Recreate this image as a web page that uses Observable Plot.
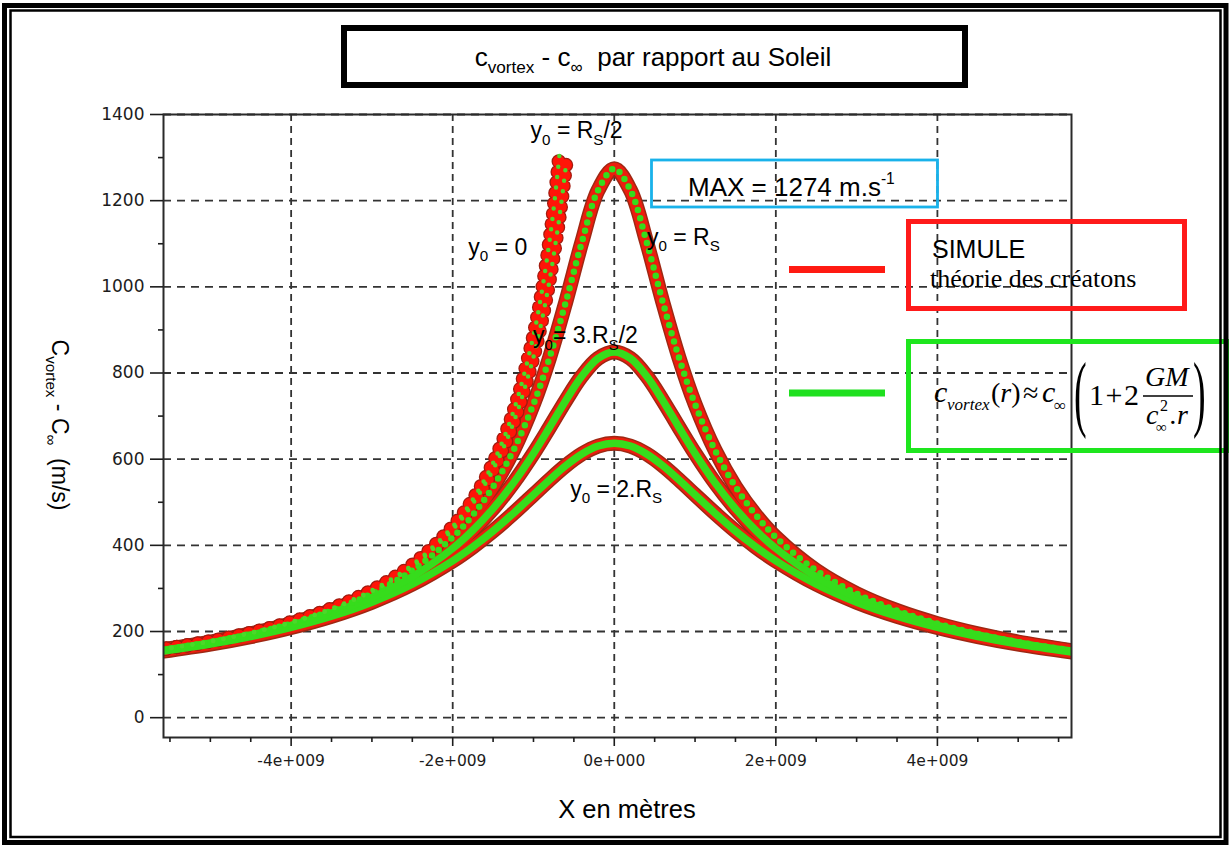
<!DOCTYPE html>
<html><head><meta charset="utf-8">
<script src="https://cdn.jsdelivr.net/npm/d3@7"></script>
<script src="https://cdn.jsdelivr.net/npm/@observablehq/plot@0.6"></script>
<style>
html,body{margin:0;padding:0;background:#fff;}
#wrap{position:relative;width:1229px;height:845px;overflow:hidden;background:#fff;}
#wrap > svg{position:absolute;left:0;top:0;}
</style></head><body><div id="wrap"></div>
<script>
// ---------- data (x in units of 1e9 m, values in m/s) ----------
const xGrid = [-5.8,-5,-4.5,-4,-3.5,-3,-2.5,-2,-1.75,-1.5,-1.25,-1,-0.8,-0.6,-0.4,-0.2,0,0.2,0.4,0.6,0.8,1,1.25,1.5,1.75,2,2.5,3,3.5,4,4.5,5,5.8];
// y0 = R_S
const valR   = [151.8,175.6,194.7,218.4,248.5,287.9,341.7,418.7,470.8,536.2,619.8,727.8,836.2,964.9,1104.6,1224.4,1274,1224.4,1104.6,964.9,836.2,727.8,619.8,536.2,470.8,418.7,341.7,287.9,248.5,218.4,194.7,175.6,151.8];
// y0 = 3.R_S/2
const val15R = [150.5,173.6,191.9,214.5,242.8,279.1,327.3,393.0,435.1,485.2,544.4,613.3,674.1,736.4,793.1,834.1,849,834.1,793.1,736.4,674.1,613.3,544.4,485.2,435.1,393.0,327.3,279.1,242.8,214.5,191.9,173.6,150.5];
// y0 = 2.R_S
const val2R  = [148.7,170.8,188.2,209.4,235.4,268.1,309.9,363.9,396.5,433.3,474.0,517.3,552.3,585.0,612.2,630.5,637,630.5,612.2,585.0,552.3,517.3,474.0,433.3,396.5,363.9,309.9,268.1,235.4,209.4,188.2,170.8,148.7];
// y0 = 0 (left branch only)
const x0   = [-5.8,-5,-4.5,-4,-3.5,-3,-2.5,-2,-1.75,-1.5,-1.25,-1,-0.9,-0.8,-0.75,-0.7,-0.675];
const val0 = [152.9,177.3,197.0,221.7,253.3,295.6,354.7,443.4,506.7,591.1,709.4,886.7,985.2,1108.4,1182.3,1266.7,1313.6];
// y0 = R_S/2 (left branch only)
const xHalf   = [-5.8,-5,-4.5,-4,-3.5,-3,-2.5,-2,-1.75,-1.5,-1.25,-1,-0.9,-0.8,-0.7,-0.65,-0.59];
const valHalf = [152.6,176.9,196.5,220.8,252.1,293.6,351.3,436.8,497.0,575.8,683.4,837.4,918.9,1016.4,1134.3,1202.6,1294.5];

const xTicks = [-4e9,-2e9,0,2e9,4e9];
const xTickLabels = ["-4e+009","-2e+009","0e+000","2e+009","4e+009"];
const xMinorTicks = [-5.5e9,-5e9,-4.5e9,-3.5e9,-3e9,-2.5e9,-1.5e9,-1e9,-0.5e9,0.5e9,1e9,1.5e9,2.5e9,3e9,3.5e9,4.5e9,5e9,5.5e9];
const yTicks = [0,200,400,600,800,1000,1200,1400];
const yTickLabels = ["0","200","400","600","800","1000","1200","1400"];
const yMinorTicks = [100,300,500,700,900,1100,1300];

// curve annotations: x (m), y (m/s), text parts
const annX = [-1.03e9, -1.80e9, 0.41e9, -1.0e9, -0.54e9];
const annY = [1344, 1073, 1096, 868, 511];
const annParts = [
  [{t:"y"},{t:"0",sub:1},{t:" = R"},{t:"S",sub:1},{t:"/2"}],
  [{t:"y"},{t:"0",sub:1},{t:" = 0"}],
  [{t:"y"},{t:"0",sub:1},{t:" = R"},{t:"S",sub:1}],
  [{t:"y"},{t:"0",sub:1},{t:"= 3.R"},{t:"S",sub:1},{t:"/2"}],
  [{t:"y"},{t:"0",sub:1},{t:" = 2.R"},{t:"S",sub:1}]
];

// ---------- tables ----------
const tab = (xs, ys) => xs.map((x,i) => ({x: x*1e9, y: ys[i]}));
const tR = tab(xGrid, valR), t15 = tab(xGrid, val15R), t2 = tab(xGrid, val2R);
const t0 = tab(x0, val0), tH = tab(xHalf, valHalf);
const xLab = new Map(xTicks.map((d,i)=>[d, xTickLabels[i]]));
const yLab = new Map(yTicks.map((d,i)=>[d, yTickLabels[i]]));

const L = {x:"x", y:"y", curve:"catmull-rom", clip:true, strokeLinecap:"round", strokeLinejoin:"round"};
const GREEN = "#36dc1c";

const chart = Plot.plot({
  width: 1229, height: 845,
  marginLeft: 163, marginRight: 158, marginTop: 114, marginBottom: 108,
  x: {domain: [-5.58e9, 5.66e9]},
  y: {domain: [-46, 1400]},
  style: {background: "none", overflow: "visible", color: "#1c1c1c"},
  marks: [
    Plot.gridX(xTicks, {stroke:"#333", strokeOpacity:1, strokeWidth:1.8, strokeDasharray:"7 5"}),
    Plot.gridY(yTicks, {stroke:"#333", strokeOpacity:1, strokeWidth:1.8, strokeDasharray:"8 6"}),
    // simulation (red bands)
    ...[tR, t15, t2].map(d => Plot.line(d, {...L, stroke:"#9e2814", strokeWidth:15})),
    ...[tR, t15, t2].map(d => Plot.line(d, {...L, stroke:"#ec1d0d", strokeWidth:12})),
    ...[t0, tH].map(d => Plot.line(d, {...L, stroke:"#a31c10", strokeWidth:14.5, strokeDasharray:"0 10.5"})),
    ...[t0, tH].map(d => Plot.line(d, {...L, stroke:"#ff1508", strokeWidth:12, strokeDasharray:"0 10.5"})),
    // theory (green)
    Plot.line(t2, {...L, stroke:GREEN, strokeWidth:7.5}),
    Plot.line(t15, {...L, stroke:GREEN, strokeWidth:7.5}),
    Plot.line(tR, {...L, stroke:GREEN, strokeWidth:6.5, strokeDasharray:"0 8.5"}),
    ...[t0, tH].map(d => Plot.line(d, {...L, stroke:"#4cd82a", strokeWidth:4.5, strokeDasharray:"0 10.5", strokeDashoffset:5.25})),
    Plot.frame({stroke:"#2a2a2a", strokeWidth:2}),
    Plot.axisX(xTicks, {tickSize:9, tickPadding:8, tickFormat: d => xLab.get(d), fontSize:15.5, fontFamily:"DejaVu Sans, sans-serif", strokeWidth:1.6, label:null}),
    Plot.axisX(xMinorTicks, {tickSize:5, tickFormat: () => "", strokeWidth:1.6, label:null}),
    Plot.axisY(yTicks, {tickSize:13, tickPadding:6, tickFormat: d => yLab.get(d), fontSize:17, fontFamily:"DejaVu Sans, sans-serif", strokeWidth:1.6, label:null}),
    Plot.axisY(yMinorTicks, {tickSize:5, tickFormat: () => "", strokeWidth:1.6, label:null})
  ]
});
const wrap = document.getElementById("wrap");
wrap.appendChild(chart);
// make sure tick-label font settings win over inherited styles
d3.select(chart).selectAll('[aria-label="y-axis tick label"]').style("font-size","17px").style("font-family","DejaVu Sans, sans-serif");
d3.select(chart).selectAll('[aria-label="x-axis tick label"]').style("font-size","15.5px").style("font-family","DejaVu Sans, sans-serif");

// ---------- overlay (titles, legend, annotations, frames) ----------
const sx = chart.scale("x"), sy = chart.scale("y");
const svg = d3.select(wrap).append("svg").attr("width",1229).attr("height",845).attr("viewBox","0 0 1229 845");
const SANS = "Liberation Sans, Arial, sans-serif", SERIF = "Liberation Serif, Times New Roman, serif";

function rich(g, x, y, parts, o) {
  const t = g.append("text").attr("x", x).attr("y", y)
    .attr("font-family", o.family || SANS).attr("font-size", o.size)
    .attr("fill", "#000").attr("text-anchor", o.anchor || "start")
    .style("white-space", "pre");
  if (o.transform) t.attr("transform", o.transform);
  if (o.italic) t.attr("font-style", "italic");
  let shift = 0;
  for (const p of parts) {
    const target = p.sub ? o.size*0.28 : p.sup ? -o.size*0.45 : 0;
    const ts = t.append("tspan").text(p.t).attr("dy", target - shift);
    shift = target;
    if (p.sub || p.sup) ts.attr("font-size", o.size*(p.scale || 0.66));
    if (p.it) ts.attr("font-style", "italic");
  }
  return t;
}

// title box
svg.append("rect").attr("x",344).attr("y",28).attr("width",621).attr("height",57).attr("fill","none").attr("stroke","#000").attr("stroke-width",6);
rich(svg, 653, 66, [{t:"c"},{t:"vortex",sub:1},{t:" - c"},{t:"∞",sub:1},{t:"  par rapport au Soleil"}], {size:26, anchor:"middle"});

// axis titles
rich(svg, 627, 818, [{t:"X en mètres"}], {size:25.5, anchor:"middle"});
rich(svg, 0, 0, [{t:"C"},{t:"vortex",sub:1},{t:" - C"},{t:"∞",sub:1},{t:"  (m/s)"}], {size:23, anchor:"middle", transform:"translate(52,425) rotate(90)"});

// curve annotations
annParts.forEach((parts, i) => rich(svg, sx.apply(annX[i]), sy.apply(annY[i]), parts, {size:23}));

// MAX box
svg.append("rect").attr("x",651.5).attr("y",160).attr("width",286).attr("height",47).attr("fill","none").attr("stroke","#19b2ea").attr("stroke-width",2.8);
rich(svg, 688, 196, [{t:"MAX = 1274 m.s"},{t:"-1",sup:1,scale:0.6}], {size:26});

// legend: simulation
svg.append("line").attr("x1",789).attr("x2",885).attr("y1",269.5).attr("y2",269.5).attr("stroke","#ff1a12").attr("stroke-width",7);
svg.append("rect").attr("x",908.5).attr("y",221.5).attr("width",276).attr("height",87).attr("fill","none").attr("stroke","#ff1a1a").attr("stroke-width",5);
rich(svg, 932, 258, [{t:"SIMULE"}], {size:25});
rich(svg, 930, 287, [{t:"théorie des créatons"}], {size:26, family:SERIF});

// legend: theory
svg.append("line").attr("x1",789).attr("x2",885).attr("y1",393).attr("y2",393).attr("stroke","#1fe01f").attr("stroke-width",7);
svg.append("rect").attr("x",908.5).attr("y",341.5).attr("width",318).attr("height",109).attr("fill","none").attr("stroke","#1ee61e").attr("stroke-width",5);
const F = svg.append("g");
rich(F, 934, 402, [{t:"c"}], {size:30, family:SERIF, italic:1});
rich(F, 947, 410, [{t:"vortex"}], {size:17, family:SERIF, italic:1});
rich(F, 991, 402, [{t:"("},{t:"r",it:1},{t:")"}], {size:28, family:SERIF});
rich(F, 1023, 402, [{t:"≈"}], {size:28, family:SERIF});
rich(F, 1042, 402, [{t:"c"}], {size:30, family:SERIF, italic:1});
rich(F, 1054, 411, [{t:"∞"}], {size:17, family:SERIF});
rich(F, 0, 0, [{t:"("}], {size:38, family:SERIF, transform:"translate(1074,421) scale(1,2.25)"});
F.append("text").attr("x",1089).attr("y",405).attr("font-family",SERIF).attr("font-size",30).attr("letter-spacing",1.5).text("1+2");
rich(F, 1145, 386, [{t:"GM"}], {size:28, family:SERIF, italic:1});
F.append("line").attr("x1",1143).attr("x2",1193).attr("y1",396).attr("y2",396).attr("stroke","#000").attr("stroke-width",1.4);
rich(F, 1146, 424, [{t:"c"}], {size:28, family:SERIF, italic:1});
rich(F, 1160, 411, [{t:"2"}], {size:16, family:SERIF});
rich(F, 1156, 432, [{t:"∞"}], {size:15, family:SERIF});
rich(F, 1170, 424, [{t:".r"}], {size:28, family:SERIF, italic:1});
rich(F, 0, 0, [{t:")"}], {size:38, family:SERIF, transform:"translate(1193,421) scale(1,2.25)"});

// outer double frame
svg.append("rect").attr("x",4.5).attr("y",5.5).attr("width",1221.5).attr("height",837).attr("fill","none").attr("stroke","#000").attr("stroke-width",5);
svg.append("rect").attr("x",10.5).attr("y",10.5).attr("width",1210).attr("height",826.5).attr("fill","none").attr("stroke","#000").attr("stroke-width",2.5);
</script></body></html>
